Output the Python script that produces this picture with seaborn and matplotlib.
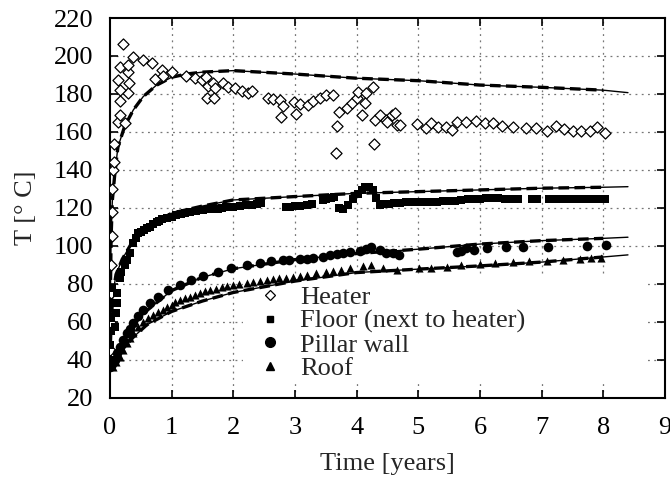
import numpy as np
import pandas as pd
import seaborn as sns
import matplotlib
matplotlib.use("Agg")
import matplotlib.pyplot as plt
from matplotlib.lines import Line2D
from matplotlib.patches import Rectangle

# ---------------- data ----------------
heater_x = [0.01, 0.01, 0.02, 0.02, 0.03, 0.03, 0.04, 0.05, 0.06, 0.06,
            0.13, 0.16, 0.24, 0.17, 0.30, 0.17, 0.31, 0.13, 0.30, 0.17,
            0.30, 0.21, 0.38, 0.54, 0.69, 0.73, 0.84, 0.86, 1.00, 1.24,
            1.38, 1.49, 1.56, 1.59, 1.67, 1.70, 1.57, 1.69, 1.83, 1.92,
            2.03, 2.15, 2.24, 2.31, 2.57, 2.65, 2.76, 2.81, 2.78, 2.99,
            3.08, 3.01, 3.21, 3.30, 3.40, 3.51, 3.62, 3.69, 3.67, 3.72,
            3.84, 3.92, 4.00, 4.03, 4.16, 4.26, 4.14, 4.08, 4.28, 4.30,
            4.38, 4.48, 4.49, 4.58, 4.62, 4.66, 4.70, 4.98, 5.13, 5.21,
            5.32, 5.45, 5.54, 5.62, 5.77, 5.94, 6.08, 6.21, 6.35, 6.54,
            6.75, 6.91, 7.08, 7.24, 7.37, 7.51, 7.64, 7.78, 7.90, 8.02]
heater_y = [45, 60, 75, 90, 105, 118, 130, 140, 144.4, 153.7,
            165.4, 169, 164.6, 176.5, 180.7, 182, 186, 187.4, 191.7, 194.4,
            195, 206.2, 199.6, 198, 196.5, 187.7, 192.6, 189.5, 191.7, 189.5,
            188.3, 187.4, 188.8, 184.2, 186, 183, 177.7, 178, 185.6, 183.5,
            183, 181.7, 180.4, 181.7, 178, 177.2, 176.8, 173.7, 167.7, 176,
            174.7, 169.3, 174.2, 176.5, 177.7, 179.5, 179.5, 163.3, 148.8, 170.7,
            172.5, 175, 177.7, 181.2, 180.7, 183.5, 175, 169, 153.5, 166.3,
            169, 166.3, 165.4, 169, 169.8, 163.7, 163.7, 164.2, 162.3, 164.9,
            162.5, 162.5, 161, 165.1, 165.4, 165.8, 164.9, 164.6, 163.3, 162.5,
            162.3, 162, 160.7, 163.2, 161.4, 160.5, 160.5, 160.7, 162.5, 159.3]

floor_x = [0.01, 0.01, 0.02, 0.02, 0.03, 0.04, 0.08, 0.10, 0.11, 0.12,
           0.16, 0.18, 0.24, 0.27, 0.32, 0.38, 0.42, 0.46, 0.50, 0.55,
           0.60, 0.65, 0.70, 0.76, 0.80, 0.85, 0.92, 1.00, 1.08, 1.15,
           1.22, 1.30, 1.40, 1.51, 1.60, 1.67, 1.75, 1.82, 1.89, 2.00,
           2.11, 2.20, 2.30, 2.38, 2.45, 2.86, 2.92, 3.00, 3.08, 3.19,
           3.27, 3.45, 3.51, 3.58, 3.64, 3.72, 3.78, 3.86, 3.94, 4.02,
           4.08, 4.14, 4.20, 4.26, 4.32, 4.38, 4.45, 4.52, 4.60, 4.70,
           4.80, 4.90, 5.00, 5.10, 5.20, 5.30, 5.40, 5.50, 5.60, 5.70,
           5.80, 5.90, 6.00, 6.10, 6.20, 6.30, 6.40, 6.52, 6.62, 6.84,
           6.92, 7.12, 7.22, 7.32, 7.42, 7.52, 7.62, 7.72, 7.82, 7.92,
           8.02]
floor_y = [40, 48, 55, 62, 70, 78, 57.5, 64.6, 69.8, 75,
           83, 86.5, 90, 92.6, 96.2, 101.4, 104, 106.7, 107.5, 108.5,
           109.5, 110.2, 111.5, 112.8, 113.3, 114, 114.6, 115.5, 116.3, 116.8,
           117.2, 118, 118.5, 119, 119.2, 119.3, 119.6, 120, 120.4, 120.7,
           121, 121.3, 121.8, 122.1, 122.6, 120.7, 120.5, 121, 121.2, 121.6,
           122, 124, 124.6, 125.3, 126, 120, 119.5, 121.6, 124.6, 127.5,
           129.5, 130.8, 131.2, 129.5, 125, 121.6, 122, 122.3, 122.5, 122.8,
           123, 123.2, 123.3, 123.3, 123, 123.3, 123.5, 123.5, 123.5, 124,
           124.5, 124.6, 124.8, 125, 125, 125, 124.8, 124.6, 124.6, 124.6,
           124.6, 124.6, 124.6, 124.6, 124.6, 124.6, 124.6, 124.6, 124.6, 124.6,
           124.6]

pillar_x = [0.00, 0.03, 0.08, 0.12, 0.16, 0.21, 0.27, 0.32, 0.38, 0.46,
            0.54, 0.65, 0.78, 0.95, 1.13, 1.32, 1.51, 1.76, 1.97, 2.22,
            2.43, 2.62, 2.81, 3.08, 3.30, 3.57, 3.78, 4.05, 4.24, 4.38,
            4.59, 5.70, 5.78, 6.11, 6.43, 6.70, 7.10, 7.73, 8.05, 2.90,
            3.20, 3.45, 3.68, 3.90, 4.15, 4.48, 4.68, 5.62, 5.90]
pillar_y = [36.5, 38, 40, 43.5, 47, 50.5, 54, 56.5, 59.3, 63,
            66.3, 69.8, 73.3, 76.8, 79.5, 82.1, 84.2, 86.5, 88.3, 90,
            91.2, 92.1, 92.6, 93, 93.5, 95.3, 96.2, 97.5, 99.6, 97.9,
            96.2, 97.5, 98.8, 98.8, 99.6, 99.3, 99.6, 100, 100.5, 92.8,
            93.2, 94.3, 95.8, 96.8, 98.5, 96.5, 95.5, 96.8, 98]

roof_x = [0.02, 0.05, 0.10, 0.16, 0.21, 0.27, 0.32, 0.38, 0.46, 0.54,
          0.62, 0.70, 0.78, 0.86, 1.00, 1.13, 1.30, 1.46, 1.62, 1.81,
          2.00, 2.22, 2.43, 2.65, 2.86, 3.08, 3.35, 3.62, 3.89, 4.24,
          4.43, 4.65, 5.02, 5.46, 6.00, 6.54, 7.08, 7.62, 7.97, 5.20,
          5.70, 6.25, 6.80, 7.35, 7.80, 4.10, 3.75, 3.50, 3.20, 2.97,
          2.75, 2.55, 2.32, 2.10, 1.90, 1.72, 1.54, 1.38, 1.22, 1.06,
          0.93]
roof_y = [38, 36.5, 39, 41.8, 45, 48.8, 51.5, 54, 57.5, 60.2,
          62, 63.7, 65, 66.3, 69, 71.6, 73.3, 75.4, 76.8, 78.2,
          79.5, 80.7, 81.6, 82.5, 83.3, 84.2, 85.6, 87, 88.3, 90,
          88.3, 87.4, 88.3, 89.1, 90.5, 91.7, 92.3, 93, 93.9, 88.6,
          89.8, 91, 92, 92.6, 93.4, 89.2, 87.6, 86.4, 84.9, 83.8,
          82.9, 82, 81.2, 80.1, 78.9, 77.5, 76.1, 74.4, 72.5, 70.3,
          67.8]

# model curves (read points)
heater_fit_x = [0.00, 0.01, 0.02, 0.04, 0.08, 0.13, 0.24, 0.38, 0.54, 0.75,
                1.00, 1.24, 1.50, 2.00, 3.00, 4.00, 5.00, 6.00, 7.00, 8.00, 8.40]
heater_fit_y = [40, 80, 105, 124, 138, 152, 163, 171.6, 178.6, 184.5,
                188.8, 190.5, 191.5, 192.3, 190.5, 188.3, 187, 184.7, 183.5, 182, 180.7]
floor_fit_x = [0.00, 0.02, 0.05, 0.10, 0.20, 0.38, 0.60, 1.00, 1.50, 2.00,
               3.00, 4.00, 5.00, 6.00, 7.00, 8.00, 8.40]
floor_fit_y = [40, 60, 75, 85, 93, 103, 110, 117.2, 121, 124.2,
               126, 127.7, 128.6, 129.5, 130.4, 130.9, 131.2]
pillar_fit_x = [0.00, 0.05, 0.10, 0.20, 0.38, 0.60, 1.00, 1.50, 2.00, 3.00,
                4.00, 5.00, 6.00, 7.00, 8.00, 8.40]
pillar_fit_y = [36, 39, 43, 49, 58.5, 66, 76.5, 83.5, 88, 92.8,
                96, 98.3, 101, 102.8, 104, 104.6]
roof_fit_x = [0.00, 0.05, 0.10, 0.20, 0.38, 0.60, 1.00, 1.50, 2.00, 3.00,
              4.00, 5.00, 6.00, 7.00, 8.00, 8.40]
roof_fit_y = [36, 38, 40.5, 45.5, 52, 58.5, 65.5, 71, 75.5, 81.5,
              86, 87.8, 89.5, 91.5, 94.2, 95.3]

series_labels = ["Heater", "Floor (next to heater)", "Pillar wall", "Roof"]
x_ticks = list(range(0, 10))
y_ticks = list(range(20, 221, 20))

# ---------------- plot ----------------
sns.set_style("ticks")
plt.rcParams['font.family'] = ['Liberation Serif', 'DejaVu Serif']

fig = plt.figure(figsize=(6.7, 4.8), dpi=100)
ax = fig.add_axes([0.164, 0.171, 0.8285, 0.7915])

# dotted grid
for xv in x_ticks[1:-1]:
    ax.axvline(xv, color='#777777', lw=0.9, ls=(0, (1.5, 3.5)), zorder=0)
for yv in y_ticks[1:-1]:
    ax.axhline(yv, color='#777777', lw=0.9, ls=(0, (1.5, 3.5)), zorder=0)

# opaque key box
ax.add_patch(Rectangle((0.24, 0.04), 0.73, 0.28, transform=ax.transAxes,
                       facecolor='white', edgecolor='none', zorder=1))

def fit(xs, ys):
    df = pd.DataFrame({"x": xs, "y": ys})
    sns.lineplot(data=df, x="x", y="y", ax=ax, color='black', lw=1.0,
                 sort=False, estimator=None, zorder=3)
    d2 = df[df.x <= 8.0]
    sns.lineplot(data=d2, x="x", y="y", ax=ax, color='black', lw=2.4,
                 sort=False, estimator=None, zorder=4,
                 linestyle=(0, (3.2, 1.6)))

for fx, fy in [(heater_fit_x, heater_fit_y), (floor_fit_x, floor_fit_y),
               (pillar_fit_x, pillar_fit_y), (roof_fit_x, roof_fit_y)]:
    fit(fx, fy)

sns.scatterplot(x=heater_x, y=heater_y, ax=ax, marker='D', s=32,
                facecolor='white', edgecolor='black', linewidth=0.9, zorder=5)
sns.scatterplot(x=floor_x, y=floor_y, ax=ax, marker='s', s=28,
                color='black', edgecolor='black', linewidth=0, zorder=5)
sns.scatterplot(x=pillar_x, y=pillar_y, ax=ax, marker='o', s=48,
                color='black', edgecolor='black', linewidth=0, zorder=5)
sns.scatterplot(x=roof_x, y=roof_y, ax=ax, marker='^', s=34,
                color='black', edgecolor='black', linewidth=0, zorder=5)

ax.set_xlim(0, 9)
ax.set_ylim(20, 220)
ax.set_xticks(x_ticks)
ax.set_yticks(y_ticks)
ax.tick_params(direction='in', length=6, width=1.2, top=True, right=True,
               labelsize=19, colors='black')
ax.tick_params(axis='x', pad=14)
ax.tick_params(axis='y', pad=12)
for sp in ax.spines.values():
    sp.set_visible(True)
    sp.set_linewidth(1.5)
    sp.set_color('black')
ax.set_xlabel("Time [years]", fontsize=19, labelpad=10)
ax.set_ylabel("T [° C]", fontsize=19, labelpad=12)

handles = [
    Line2D([], [], ls='none', marker='D', ms=5, mfc='white', mec='black', mew=0.9),
    Line2D([], [], ls='none', marker='s', ms=5, mfc='black', mec='black'),
    Line2D([], [], ls='none', marker='o', ms=7, mfc='black', mec='black'),
    Line2D([], [], ls='none', marker='^', ms=6, mfc='black', mec='black'),
]
leg = ax.legend(handles, series_labels, loc='upper left',
                bbox_to_anchor=(0.267, 0.295), frameon=False, fontsize=19,
                handlelength=0.9, handletextpad=0.7, labelspacing=0.0,
                borderaxespad=0, borderpad=0)
leg.set_zorder(10)

fig.savefig("out.png", dpi=100)
